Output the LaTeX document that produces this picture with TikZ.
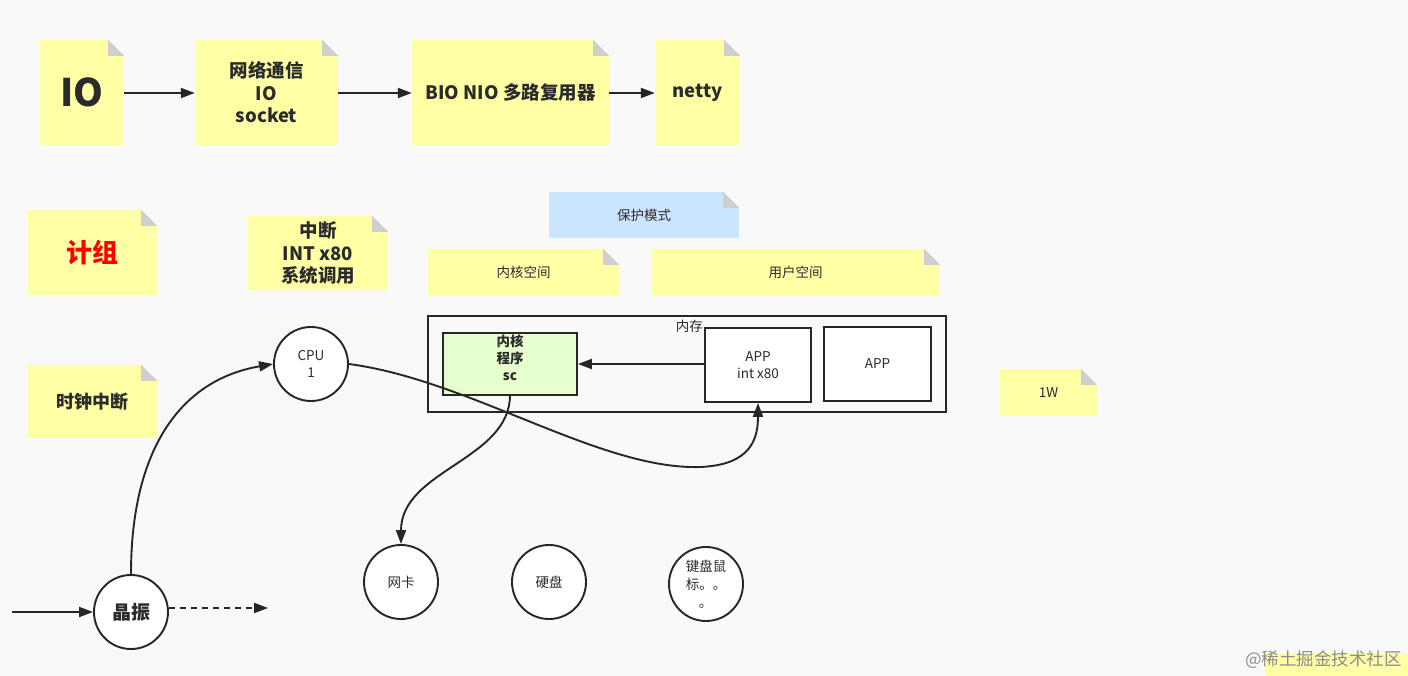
\documentclass[tikz,border=0pt]{standalone}
\usepackage{fontspec}
\setmainfont{Noto Sans CJK SC}
\usetikzlibrary{arrows.meta}
\definecolor{bgc}{HTML}{F9F9F9}
\definecolor{noteyel}{HTML}{FFFFA6}
\definecolor{noteblue}{HTML}{CCE5FF}
\definecolor{foldc}{HTML}{CFCFCF}
\definecolor{textc}{HTML}{2B2B2B}
\definecolor{linec}{HTML}{262626}
\definecolor{kgreen}{HTML}{E6FFCC}
\newcommand\stickynote[8]{% name, x1, y1, x2, y2, fill, options, text
  \node[notebox, fill=#6, minimum width={(#4-#2)*1pt}, minimum height={(#5-#3)*1pt}, #7] (#1) at ({(#2+#4)/2},{(#3+#5)/2}) {#8};
  \fill[bgc] (#1.north east) -- ++(-16,0) -- ++(16,16) -- cycle;
  \fill[foldc] (#1.north east) ++(-16,0) -- ++(16,16) -- ++(-16,0) -- cycle;
}
\tikzset{
  notebox/.style={inner sep=0pt, align=center, text=textc},
  conn/.style={draw=linec, line width=1.9pt, -{Triangle[length=14pt,width=10pt]}},
  circ/.style={circle, draw=linec, line width=1.9pt, fill=white, minimum size=74pt, inner sep=0pt, align=center, text=textc},
  sq/.style={draw=linec, line width=1.9pt, inner sep=0pt, align=center, text=textc},
  bigb/.style={font=\fontsize{18.5}{22.5}\selectfont\bfseries},
  reg/.style={font=\fontsize{13.5}{17.5}\selectfont},
}
\begin{document}
\begin{tikzpicture}[x=1pt,y=-1pt]
\fill[bgc] (0,0) rectangle (1408,676);
\useasboundingbox (0,0) rectangle (1408,676);
% top row
\stickynote{io}{40}{40}{124}{145}{noteyel}{font=\fontsize{38}{40}\selectfont\bfseries}{IO}
\stickynote{net}{195}{40}{338}{145}{noteyel}{bigb}{网络通信\\IO\\socket}
\stickynote{bio}{412}{40}{609}{145}{noteyel}{bigb}{BIO NIO 多路复用器}
\stickynote{netty}{655}{40}{740}{145}{noteyel}{bigb}{netty}
\draw[conn] (io.east |- 0,93) -- (net.west |- 0,93);
\draw[conn] (net.east |- 0,93) -- (bio.west |- 0,93);
\draw[conn] (bio.east |- 0,93) -- (netty.west |- 0,93);
% second row
\stickynote{jz}{28}{210}{157}{295}{noteyel}{font=\fontsize{26}{28}\selectfont\bfseries, text=red}{计组}
\stickynote{zd}{248}{216}{388}{290}{noteyel}{bigb}{中断\\INT x80\\系统调用}
\stickynote{bh}{549}{192}{739}{238}{noteblue}{reg}{保护模式}
\stickynote{nhkj}{428}{249}{619}{296}{noteyel}{reg}{内核空间}
\stickynote{yhkj}{651}{249}{940}{296}{noteyel}{reg}{用户空间}
\stickynote{sz}{28}{365}{157}{438}{noteyel}{font=\fontsize{18}{22}\selectfont\bfseries}{时钟中断}
\stickynote{w}{1000}{369}{1097}{416}{noteyel}{reg}{1W}
% memory
\node[sq, minimum width=518pt, minimum height=96pt] (mem) at (687,364) {};
\node[reg, text=textc, anchor=east, inner sep=0pt] (memlbl) at (703,326) {内存};
\node[sq, fill=kgreen, minimum width=134pt, minimum height=62pt] (ker) at (510,364) {};
\node[font=\fontsize{13.5}{17}\selectfont\bfseries, align=center, text=textc, inner sep=0pt] (kertxt) at (510,358) {内核\\程序\\sc};
\node[sq, fill=white, minimum width=106pt, minimum height=74pt, reg] (app1) at (758,365) {APP\\int x80};
\node[sq, fill=white, minimum width=107pt, minimum height=74pt, reg] (app2) at (877.5,364) {APP};
\draw[conn] (app1.west |- ker.east) -- (ker.east);
% circles
\node[circ, reg] (cpu) at (311,364) {CPU\\1};
\node[circ, font=\fontsize{19}{22}\selectfont\bfseries] (jzh) at (131,612) {晶振};
\node[circ, reg] (wk) at (401,582) {网卡};
\node[circ, reg] (yp) at (549,582) {硬盘};
\node[circ, font=\fontsize{13.5}{18}\selectfont, align=left] (jp) at (706,584) {键盘鼠\\标。。\\\hspace*{13pt}。};
\coordinate (instart) at (12,612);
\coordinate (dashend) at (268,608);
\draw[conn] (instart) -- (jzh.west);
\draw[conn, dashed, dash pattern=on 6pt off 5pt] (jzh.east |- dashend) -- (dashend);
\draw[conn] (jzh.north) .. controls (131,450) and (180,380) .. (cpu.west);
\draw[conn] (cpu.east) .. controls (470,380) and (600,470) .. (700,467) .. controls (750,465) and (758,440) .. (app1.south);
\draw[conn] (510,395) .. controls (510,460) and (401,470) .. (wk.north);
% watermark area
\fill[noteyel] (1265,653) rectangle (1408,676);
\node[font=\fontsize{17.5}{19}\selectfont, text=black!45, anchor=east, inner sep=0pt] (wm) at (1402,660) {@稀土掘金技术社区};
\end{tikzpicture}
\end{document}
